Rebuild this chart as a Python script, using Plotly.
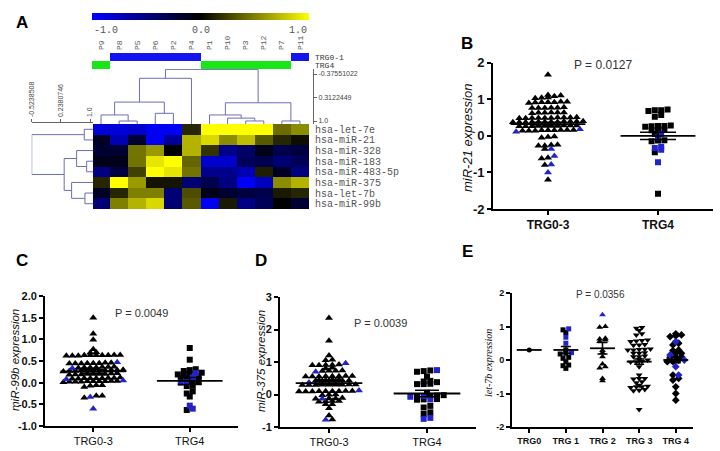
import numpy as np
import plotly.graph_objects as go

W, H = 720, 451

# ---------------- panel A: heatmap data ----------------
samples = ['P9', 'P8', 'P5', 'P6', 'P2', 'P4', 'P1', 'P10', 'P3', 'P12', 'P7', 'P11']
sample_group = ['TRG4', 'TRG0-1', 'TRG0-1', 'TRG0-1', 'TRG0-1', 'TRG0-1',
                'TRG4', 'TRG4', 'TRG4', 'TRG4', 'TRG4', 'TRG0-1']
mirnas = ['hsa-let-7e', 'hsa-miR-21', 'hsa-miR-328', 'hsa-miR-183',
          'hsa-miR-483-5p', 'hsa-miR-375', 'hsa-let-7b', 'hsa-miR-99b']
expr = [
    [-0.85, -0.85, -0.8, -0.95, -0.95, 0.15, 1.0, 1.0, 1.0, 1.0, 0.42, 0.55],
    [-0.15, -0.7, -0.2, -0.95, -0.6, 0.7, 0.85, 0.55, 0.75, 0.35, 0.15, 0.05],
    [-0.2, -0.2, 0.45, 0.6, 0.0, 0.7, 0.2, -0.55, -0.4, -0.1, -0.3, -0.25],
    [-0.1, -0.1, 0.45, 0.9, 1.0, 0.4, -0.8, -0.8, -0.35, -0.3, -0.45, -0.35],
    [-0.5, -0.25, 0.25, 1.0, 0.9, 0.45, -0.55, -0.55, -0.7, 0.12, -0.15, -0.5],
    [0.15, 1.0, 0.6, 0.08, 0.08, -0.45, -0.3, -0.5, -0.95, -0.75, 0.55, 0.7],
    [-0.15, 0.15, 0.5, 0.5, -0.45, 0.3, -0.1, -0.2, -0.25, -0.3, 0.1, 0.15],
    [-0.45, 0.5, 0.7, 0.85, -0.45, 0.35, -0.95, 0.1, -0.5, -0.35, 0.0, -0.2],
]
# dendrograms: (left, right, similarity at merge), leaves are display indices
col_tree = (((((0, (1, 2, 1.0), 0.823), (3, 4, 0.775), 0.447), 5, -0.25),
             ((6, (7, (8, 9, 0.999), 0.916), 0.823), (10, 11, 0.999), 0.467), -0.51))
row_tree = ((0, 1, 0.85), ((2, (3, 4, 0.913), 0.65), (5, (6, 7, 0.868), 0.519), 0.325), -0.5238508)
col_scale = [-0.37551022, 0.3122449, 1.0]
row_scale = [-0.5238508, 0.2380746, 1.0]

# ---------------- panel B: miR-21 ----------------
b_cats = ['TRG0-3', 'TRG4']
b_black = [
    [1.67, 1.03, 1.04, 1.05, 1.08, 1.1, 1.12,
     0.9, 0.92, 0.93, 0.92, 0.91, 0.93, 0.92,
     0.78, 0.76, 0.77, 0.76, 0.77, 0.76,
     0.64, 0.63, 0.64, 0.62, 0.63, 0.64,
     0.49, 0.5, 0.48, 0.49, 0.5, 0.49, 0.48, 0.49, 0.5, 0.51,
     0.38, 0.39, 0.37, 0.38, 0.4, 0.38, 0.37, 0.39, 0.38, 0.37, 0.38, 0.39,
     0.27, 0.28, 0.26, 0.27, 0.28, 0.26, 0.27, 0.28, 0.27, 0.26,
     0.15, 0.14, 0.16, 0.15, 0.14, 0.16, 0.15, 0.14, 0.16,
     -0.02, -0.03, -0.05, -0.24, -0.27, -0.25, -0.27, -0.36,
     -0.62, -0.6, -0.8, -1.2],
    [0.72, 0.7, 0.7, 0.68, 0.57, 0.52, 0.28, 0.27, 0.27, 0.26, 0.25,
     0.17, 0.16, 0.15, 0.05, -0.12, -0.13, -0.15, -0.45, -1.58],
]
b_blue = [[0.11, 0.18, -0.36, -0.55, -0.78, -1.0],
          [0.06, -0.04, -0.3, -0.33, -0.38, -0.72]]
b_mean = [0.32, 0.0]
b_sem = [0.05, 0.1]

# ---------------- panel C: miR-99b ----------------
c_cats = ['TRG0-3', 'TRG4']
c_black = [
    [1.5, 1.13, 0.99, 0.77, 0.69, 0.7,
     0.62, 0.63, 0.64, 0.63, 0.62, 0.63, 0.64, 0.63, 0.62, 0.63,
     0.44, 0.45, 0.46, 0.45, 0.44, 0.46, 0.45, 0.44,
     0.35, 0.36, 0.34, 0.35, 0.36, 0.37, 0.35,
     0.28, 0.27, 0.29, 0.28, 0.26, 0.28, 0.29, 0.27, 0.28, 0.3, 0.28,
     0.2, 0.19, 0.21, 0.2, 0.18, 0.2, 0.22, 0.2, 0.19,
     0.1, 0.11, 0.09, 0.1, 0.12, 0.1, 0.11, 0.09, 0.1,
     0.03, 0.02, 0.04, 0.03, 0.01, 0.03, 0.02, 0.04, 0.03, 0.02,
     -0.06, -0.06, -0.07, -0.1, -0.3, -0.35, -0.3],
    [0.8, 0.53, 0.31, 0.29, 0.27, 0.23, 0.2, 0.2, 0.19, 0.15, 0.11, 0.1,
     0.03, 0.02, -0.07, -0.08, -0.2, -0.25, -0.32, -0.63],
]
c_blue = [[0.47, 0.33, 0.08, 0.05, -0.33, -0.6],
          [0.22, 0.12, 0.01, 0.0, -0.53, -0.6]]
c_mean = [0.26, 0.04]
c_sem = [0.04, 0.08]

# ---------------- panel D: miR-375 ----------------
d_cats = ['TRG0-3', 'TRG4']
d_black = [
    [2.35, 1.65, 1.2, 1.05, 1.07,
     0.9, 0.91, 0.92, 0.91, 0.9, 0.8, 0.82, 0.72, 0.73, 0.73, 0.74,
     0.55, 0.56, 0.57, 0.56, 0.55, 0.57, 0.56, 0.55,
     0.42, 0.43, 0.44, 0.45, 0.43, 0.42, 0.44, 0.43, 0.45, 0.43,
     0.29, 0.3, 0.31, 0.3, 0.29, 0.31, 0.3, 0.29, 0.3,
     0.1, 0.09, 0.11, 0.1, 0.09, 0.11, 0.1, 0.09, 0.1,
     -0.02, 0.0, -0.01, -0.11, -0.12, -0.12, -0.13,
     -0.2, -0.21, -0.2, -0.22, -0.3, -0.3, -0.42, -0.65, -0.77],
    [0.74, 0.72, 0.7, 0.55, 0.42, 0.4, 0.38, 0.33, 0.32, 0.32, 0.05,
     -0.05, -0.03, -0.02, -0.04, -0.14, -0.15, -0.16, -0.35, -0.4, -0.55, -0.6],
]
d_blue = [[0.96, 0.7, 0.37, 0.12, -0.13, -0.78],
          [0.75, -0.07, -0.15, -0.05, -0.75, -0.72]]
d_mean = [0.35, 0.03]
d_sem = [0.05, 0.1]

# ---------------- panel E: let-7b by TRG ----------------
e_cats = ['TRG0', 'TRG 1', 'TRG 2', 'TRG 3', 'TRG 4']
e_black = [
    [0.3],
    [0.9, 0.82, 0.3, 0.2, 0.18, 0.08, 0.05, -0.05, -0.15, -0.17, -0.25],
    [0.98, 1.0, 0.65, 0.63, 0.6, 0.55, 0.28, 0.22, 0.1, -0.12, -0.2, -0.24, -0.55, -0.62],
    [0.97, 0.95, 0.88, 0.78, 0.75, 0.6, 0.58, 0.55, 0.57, 0.45, 0.44, 0.46,
     0.33, 0.3, 0.32, 0.31, 0.3, 0.2, 0.22, 0.2, 0.1, 0.12, 0.1, 0.0, 0.02,
     -0.05, -0.06, -0.04, -0.2, -0.45, -0.55, -0.57, -0.55, -0.65, -0.68,
     -0.75, -0.78, -0.8, -0.8, -0.82, -0.9, -0.92, -0.88, -1.48],
    [0.78, 0.75, 0.72, 0.7, 0.5, 0.45, 0.3, 0.28, 0.2, 0.2, 0.22, 0.1, 0.08,
     0.1, 0.0, -0.05, -0.05, -0.45, -0.55, -0.6, -0.8, -1.0, -1.2],
]
e_blue = [[], [0.93, 0.68, 0.5, 0.22], [1.35], [], [0.55, 0.15, 0.0, -0.2, -0.45]]
e_mean = [0.3, 0.3, 0.35, -0.05, 0.0]
e_sem = [0.0, 0.1, 0.17, 0.08, 0.08]

BLUE_PT = '#2323cc'
MONO = 'Liberation Mono, Courier New, monospace'
SANS = 'Liberation Sans, Arial, sans-serif'
DENDRO = '#6d6db8'

# dendrogram axes: tick scale occupies 74..121 px (columns) and 31.7..90 px (rows);
# the tree itself spans 69..124 px so leaves reach the heatmap edge
COL_PX = (121 - 74) / (1.0 - col_scale[0])
COL_RANGE = [1.0 + 3 / COL_PX, col_scale[0] - 5 / COL_PX]
ROW_PX = (90 - 31.7) / (1.0 - row_scale[0])
ROW_RANGE = [row_scale[0], 1.0 + 3 / ROW_PX]


def dx(a, b):
    return [a / W, b / W]


def dy(top, bottom):
    return [1 - bottom / H, 1 - top / H]


def tree_lines(node, leaf_h):
    if isinstance(node, int):
        return node, leaf_h, [], []
    left, right, h = node
    lp, lh, lx, ly = tree_lines(left, leaf_h)
    rp, rh, rx, ry = tree_lines(right, leaf_h)
    return (lp + rp) / 2, h, lx + rx + [lp, lp, rp, rp, None], ly + ry + [lh, h, h, rh, None]


def swarm(values, tol, step):
    # GraphPad-like rows: values close together are laid side by side
    v = np.asarray(values, float)
    offs = np.zeros(len(v))
    row = []

    def flush(r):
        for k, i in enumerate(r):
            offs[i] = (k - (len(r) - 1) / 2) * step

    for i in np.argsort(v, kind='stable'):
        if row and v[i] - v[row[0]] > tol:
            flush(row)
            row = []
        row.append(i)
    if row:
        flush(row)
    return offs


fig = go.Figure()

# colour key
fig.add_trace(go.Heatmap(z=[np.linspace(-1, 1, 256)], x=np.linspace(-1, 1, 256),
                         colorscale=[[0, '#0000ff'], [0.5, '#000000'], [1, '#ffff00']],
                         zmin=-1, zmax=1, showscale=False, xaxis='x', yaxis='y', hoverinfo='skip'))
# group bars
grp_z = [[1 if g == 'TRG0-1' else None for g in sample_group],
         [0 if g == 'TRG4' else None for g in sample_group]]
fig.add_trace(go.Heatmap(z=grp_z, x=list(range(12)), y=[0, 1],
                         colorscale=[[0, '#19e619'], [1, '#1414f0']], zmin=0, zmax=1,
                         showscale=False, xaxis='x2', yaxis='y2', hoverinfo='skip'))
# column dendrogram
_, _, cx, cy = tree_lines(col_tree, COL_RANGE[0])
fig.add_trace(go.Scatter(x=cx, y=cy, mode='lines', line=dict(color=DENDRO, width=1),
                         xaxis='x3', yaxis='y3', hoverinfo='skip'))
# heatmap
fig.add_trace(go.Heatmap(z=expr, x=list(range(12)), y=list(range(8)),
                         colorscale=[[0, '#0000ff'], [0.5, '#000000'], [1, '#ffff00']],
                         zmin=-1, zmax=1, showscale=False, xaxis='x4', yaxis='y4'))
# row dendrogram
_, _, rp, rh = tree_lines(row_tree, ROW_RANGE[1])
fig.add_trace(go.Scatter(x=rh, y=rp, mode='lines', line=dict(color=DENDRO, width=1),
                         xaxis='x5', yaxis='y5', hoverinfo='skip'))

hidden = dict(visible=False, showgrid=False, zeroline=False)
layout = dict(
    xaxis=dict(domain=dx(92, 309), range=[-1, 1], **hidden),
    yaxis=dict(domain=dy(13, 20), range=[-0.5, 0.5], **hidden),
    xaxis2=dict(domain=dx(92, 309), range=[-0.5, 11.5], anchor='y2', side='top',
                tickvals=list(range(12)), ticktext=samples, tickangle=-90, ticks='',
                showgrid=False, zeroline=False, showline=False, ticklabelstandoff=2,
                automargin=False, tickfont=dict(family=MONO, size=8, color='#555')),
    yaxis2=dict(domain=dy(53, 69), range=[1.5, -0.5], anchor='x2', side='right',
                tickvals=[0, 1], ticktext=['TRG0-1', 'TRG4'], ticks='', showgrid=False,
                zeroline=False, showline=False, ticklabelstandoff=5, automargin=False,
                tickfont=dict(family=MONO, size=8, color='#333')),
    xaxis3=dict(domain=dx(92, 309), range=[-0.5, 11.5], anchor='y3', **hidden),
    yaxis3=dict(domain=dy(69, 124), range=COL_RANGE, anchor='free',
                position=313 / W, side='right', showline=True, linecolor='#666', linewidth=1,
                ticks='outside', ticklen=3, tickcolor='#666', tickvals=col_scale,
                ticktext=['-0.37551022', '0.3122449', '1.0'], showgrid=False, zeroline=False,
                automargin=False, tickfont=dict(family=SANS, size=7, color='#444')),
    xaxis4=dict(domain=dx(92, 309), range=[-0.5, 11.5], anchor='y4', **hidden),
    yaxis4=dict(domain=dy(124, 209), range=[7.5, -0.5], anchor='x4', side='right',
                tickvals=list(range(8)), ticktext=mirnas, ticks='', showgrid=False,
                zeroline=False, showline=False, ticklabelstandoff=5, automargin=False,
                tickfont=dict(family=MONO, size=10, color='#555')),
    xaxis5=dict(domain=dx(31.7, 93), range=ROW_RANGE, anchor='free',
                position=1 - 121.5 / H, side='top', showline=True, linecolor='#666',
                linewidth=1, ticks='outside', ticklen=3, tickcolor='#666', tickvals=row_scale,
                ticktext=['-0.5238508', '0.2380746', '1.0'], tickangle=-90, automargin=False,
                showgrid=False, zeroline=False, tickfont=dict(family=SANS, size=7, color='#444')),
    yaxis5=dict(domain=dy(124, 209), range=[7.5, -0.5], anchor='x5', **hidden),
)

annotations = [
    dict(text='-1.0', x=92 / W, y=1 - 30 / H, xanchor='left', yanchor='middle'),
    dict(text='0.0', x=201 / W, y=1 - 30 / H, xanchor='center', yanchor='middle'),
    dict(text='1.0', x=309 / W, y=1 - 30 / H, xanchor='right', yanchor='middle'),
]
for a in annotations:
    a.update(xref='paper', yref='paper', showarrow=False,
             font=dict(family=MONO, size=10, color='#555'))

panels = [
    dict(ax=6, xd=(493, 713), yd=(62.7, 209), xr=[-0.5, 1.5], yr=[-2, 2],
         yt=[-2, -1, 0, 1, 2], ytt=['-2', '-1', '0', '1', '2'], cats=b_cats,
         black=b_black, blue=b_blue, mean=b_mean, sem=b_sem,
         sym=['triangle-up', 'square'], msize=[7, 6], tol=0.08, step=0.058, cap=18,
         tfs=13, cfs=12, bold=True, title='miR-21 expression', tx=468, ty=138, tfsz=13,
         p='P = 0.0127', px=603, py=65, pfs=12),
    dict(ax=7, xd=(45, 238), yd=(296, 426), xr=[-0.5, 1.5], yr=[-1, 2],
         yt=[-1, -0.5, 0, 0.5, 1, 1.5, 2],
         ytt=['-1.0', '-0.5', '0.0', '0.5', '1.0', '1.5', '2.0'], cats=c_cats,
         black=c_black, blue=c_blue, mean=c_mean, sem=c_sem,
         sym=['triangle-up', 'square'], msize=[7, 6], tol=0.05, step=0.062, cap=12,
         tfs=11, cfs=11, bold=False, title='miR-99b expression', tx=15, ty=360, tfsz=11.5,
         p='P = 0.0049', px=141, py=313, pfs=11),
    dict(ax=8, xd=(280, 476), yd=(297, 427), xr=[-0.5, 1.5], yr=[-1, 3],
         yt=[-1, 0, 1, 2, 3], ytt=['-1', '0', '1', '2', '3'], cats=d_cats,
         black=d_black, blue=d_blue, mean=d_mean, sem=d_sem,
         sym=['triangle-up', 'square'], msize=[7, 6], tol=0.06, step=0.068, cap=12,
         tfs=11, cfs=11, bold=False, title='miR-375 expression', tx=261, ty=361, tfsz=11.5,
         p='P = 0.0039', px=380, py=323, pfs=11),
    dict(ax=9, xd=(512, 693), yd=(293, 427), xr=[-0.47, 4.47], yr=[-2, 2],
         yt=[-2, -1, 0, 1, 2], ytt=['-2', '-1', '0', '1', '2'], cats=e_cats,
         black=e_black, blue=e_blue, mean=e_mean, sem=e_sem,
         sym=['circle', 'square', 'triangle-up', 'triangle-down', 'diamond'],
         msize=[5, 5, 6, 6, 6], tol=0.06, step=0.155, cap=5,
         tfs=9, cfs=9, bold=True, title='let-7b expression', tx=488, ty=363, tfsz=10,
         p='P = 0.0356', px=600, py=294, pfs=10),
]

for pn in panels:
    xa, ya = f'x{pn["ax"]}', f'y{pn["ax"]}'
    for gi, (blk, blu) in enumerate(zip(pn['black'], pn['blue'])):
        vals = list(blk) + list(blu)
        cols = ['#000000'] * len(blk) + [BLUE_PT] * len(blu)
        offs = swarm(vals, pn['tol'], pn['step'])
        fig.add_trace(go.Scatter(
            x=gi + offs, y=vals, mode='markers', xaxis=xa, yaxis=ya,
            marker=dict(symbol=pn['sym'][gi], size=pn['msize'][gi], color=cols, line=dict(width=0))))
        hw = 0.34
        fig.add_trace(go.Scatter(x=[gi - hw, gi + hw], y=[pn['mean'][gi]] * 2, mode='lines',
                                 line=dict(color='black', width=1.8), xaxis=xa, yaxis=ya))
        if pn['sem'][gi] > 0:
            fig.add_trace(go.Scatter(
                x=[gi], y=[pn['mean'][gi]], mode='markers', marker=dict(size=1, color='black'),
                error_y=dict(type='data', array=[pn['sem'][gi]], width=pn['cap'],
                             thickness=1.5, color='black'),
                xaxis=xa, yaxis=ya))
    weight = 'bold' if pn['bold'] else 'normal'
    layout[f'xaxis{pn["ax"]}'] = dict(
        domain=dx(*pn['xd']), range=pn['xr'], anchor=ya, showline=True, linecolor='black',
        linewidth=1.8, ticks='outside', ticklen=4, tickwidth=1.5, tickcolor='black',
        tickvals=list(range(len(pn['cats']))), ticktext=pn['cats'], showgrid=False,
        zeroline=False, automargin=False,
        tickfont=dict(family=SANS, size=pn['cfs'], color='#111', weight=weight))
    layout[f'yaxis{pn["ax"]}'] = dict(
        domain=dy(*pn['yd']), range=pn['yr'], anchor=xa, showline=True, linecolor='black',
        linewidth=1.8, ticks='outside', ticklen=4, tickwidth=1.5, tickcolor='black',
        tickvals=pn['yt'], ticktext=pn['ytt'], showgrid=False, zeroline=False, automargin=False,
        tickfont=dict(family=SANS, size=pn['tfs'], color='#111', weight='bold'))
    tfam = 'Liberation Serif, Times New Roman, serif' if pn['ax'] == 9 else SANS
    annotations.append(dict(text=pn['title'], x=pn['tx'] / W, y=1 - pn['ty'] / H,
                            xref='paper', yref='paper', showarrow=False, textangle=-90,
                            xanchor='center', yanchor='middle',
                            font=dict(family=tfam, size=pn['tfsz'], color='#111', style='italic')))
    annotations.append(dict(text=pn['p'], x=pn['px'] / W, y=1 - pn['py'] / H,
                            xref='paper', yref='paper', showarrow=False,
                            xanchor='center', yanchor='middle',
                            font=dict(family=SANS, size=pn['pfs'], color='#333')))

for lab, lx, ly in [('A', 22, 22), ('B', 467, 44), ('C', 22, 260), ('D', 261, 260), ('E', 467, 251)]:
    annotations.append(dict(text=lab, x=lx / W, y=1 - ly / H, xref='paper', yref='paper',
                            showarrow=False, xanchor='center', yanchor='middle',
                            font=dict(family=SANS, size=17, color='black', weight='bold')))

fig.update_layout(**layout)
fig.update_layout(
    width=W, height=H, margin=dict(l=0, r=0, t=0, b=0, pad=0, autoexpand=False),
    paper_bgcolor='white', plot_bgcolor='white', showlegend=False,
    annotations=annotations,
)

# the page body normally carries an 8px margin; drop it so the figure fills the window
fig.write_html("out.html", config={'displayModeBar': False},
               post_script="document.body.style.margin='0px';")
